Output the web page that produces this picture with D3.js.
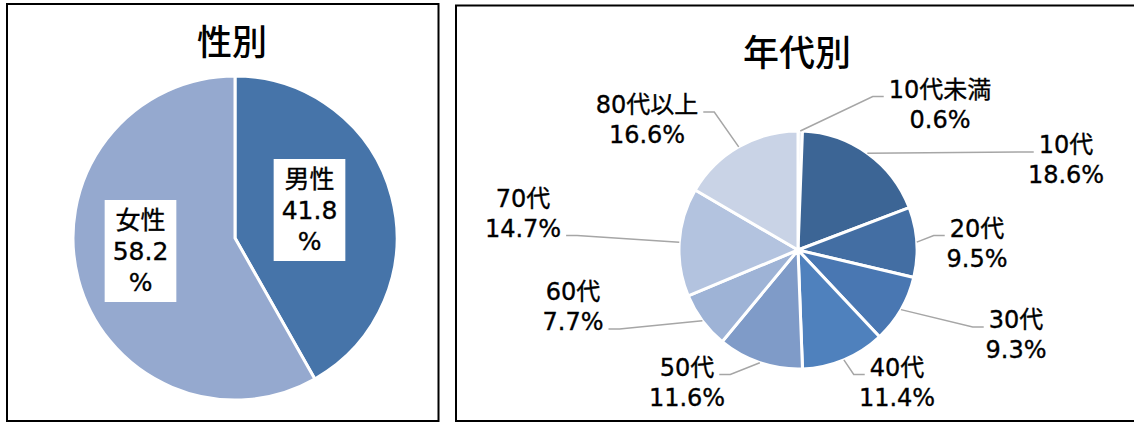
<!DOCTYPE html>
<html>
<head>
<meta charset="utf-8">
<script src="https://cdn.jsdelivr.net/npm/d3@7"></script>
<style>
body { margin: 0; background: #fff; }
svg { display: block; }
text { font-family: "DejaVu Sans", "Noto Sans CJK JP", sans-serif; fill: #000; stroke: #000; stroke-width: 0.35px; }
.title { font-family: "Noto Sans CJK JP", sans-serif; font-weight: 500; stroke: none; }
</style>
</head>
<body>
<svg id="svg"></svg>
<script>
var width = 1134, height = 423;

// 性別
var sexNames = ["男性", "女性"];
var sexValues = [41.8, 58.2];
var sexColors = ["#4674a9", "#95a9cf"];

// 年代別
var ageNames = ["10代未満", "10代", "20代", "30代", "40代", "50代", "60代", "70代", "80代以上"];
var ageValues = [0.6, 18.6, 9.5, 9.3, 11.4, 11.6, 7.7, 14.7, 16.6];
var ageColors = ["#e2e8f2", "#3c6595", "#436ea3", "#4977b2", "#4f81bd", "#7f9bc8", "#9eb3d6", "#b3c3df", "#c9d3e6"];

// label placement (offset of label centre from pie centre, which line the leader meets)
var sexLabelPos = [[74.5, -28], [-94.5, 13]];
var ageLabelPos = [[142, -145.5, 0], [268, -90, 0], [179, -6.5, 0], [218, 85, 0], [99, 132.5, 0],
	[-111, 132.5, 0], [-225, 57, 1], [-275, -36.5, 1], [-151, -130, 0]];

var fmt = d3.format(".1f");

var svg = d3.select("#svg")
	.attr("width", width)
	.attr("height", height);

// panel frames
svg.append("rect").attr("x", 7).attr("y", 4).attr("width", 431.5).attr("height", 417)
	.attr("fill", "none").attr("stroke", "#000").attr("stroke-width", 2);
svg.append("rect").attr("x", 456).attr("y", 5.5).attr("width", 700).attr("height", 415.5)
	.attr("fill", "none").attr("stroke", "#000").attr("stroke-width", 2);

svg.append("text").attr("class", "title")
	.attr("x", 232).attr("y", 39)
	.attr("text-anchor", "middle").attr("dominant-baseline", "central")
	.attr("font-size", "35px")
	.text("性別");

svg.append("text").attr("class", "title")
	.attr("x", 797).attr("y", 50)
	.attr("text-anchor", "middle").attr("dominant-baseline", "central")
	.attr("font-size", "36px")
	.text("年代別");

var pie = d3.pie()
	.sort(null)
	.value(function(d) { return d.value; });

// ---- 性別 pie ----
var sexData = sexNames.map(function(n, i) { return {name: n, value: sexValues[i], color: sexColors[i], pos: sexLabelPos[i]}; });
var r1 = 162;
var g1 = svg.append("g").attr("transform", "translate(235,238)");
var arc1 = d3.arc().outerRadius(r1).innerRadius(0);

g1.selectAll(".arc")
	.data(pie(sexData))
	.enter().append("path")
	.attr("class", "arc")
	.attr("d", arc1)
	.attr("fill", function(d) { return d.data.color; })
	.attr("stroke", "#fff")
	.attr("stroke-width", 3);

var lab1 = g1.selectAll(".lab")
	.data(sexData)
	.enter().append("g")
	.attr("class", "lab")
	.attr("transform", function(d) { return "translate(" + d.pos[0] + "," + d.pos[1] + ")"; });

lab1.each(function(d) {
	var g = d3.select(this);
	var lines = [d.name, fmt(d.value), "%"];
	var lh = 31;
	var box = g.append("rect").attr("fill", "#fff");
	var maxW = 0;
	lines.forEach(function(s, i) {
		var t = g.append("text")
			.attr("x", 0).attr("y", (i - 1) * lh)
			.attr("text-anchor", "middle").attr("dominant-baseline", "central")
			.attr("font-size", "25px")
			.text(s);
		maxW = Math.max(maxW, t.node().getComputedTextLength());
	});
	var w = maxW + 16, h = lines.length * lh + 9;
	box.attr("x", -w / 2).attr("y", -h / 2).attr("width", w).attr("height", h);
});

// ---- 年代別 pie ----
var ageData = ageNames.map(function(n, i) { return {name: n, value: ageValues[i], color: ageColors[i], pos: ageLabelPos[i]}; });
var r2 = 119;
var g2 = svg.append("g").attr("transform", "translate(798,250)");
var arc2 = d3.arc().outerRadius(r2).innerRadius(0);
var arcs2 = pie(ageData);

g2.selectAll(".arc")
	.data(arcs2)
	.enter().append("path")
	.attr("class", "arc")
	.attr("d", arc2)
	.attr("fill", function(d) { return d.data.color; })
	.attr("stroke", "#fff")
	.attr("stroke-width", 3);

var lineGroup = g2.append("g");
var lh2 = 30;

var lab2 = g2.selectAll(".lab")
	.data(arcs2)
	.enter().append("g")
	.attr("class", "lab");

lab2.each(function(d) {
	var g = d3.select(this);
	var cx = d.data.pos[0], cy = d.data.pos[1], at = d.data.pos[2];
	var lines = [d.data.name, fmt(d.data.value) + "%"];
	var widths = [];
	lines.forEach(function(s, i) {
		var t = g.append("text")
			.attr("x", cx).attr("y", cy + (i - 0.5) * lh2)
			.attr("text-anchor", "middle").attr("dominant-baseline", "central")
			.attr("font-size", "24px")
			.text(s);
		widths.push(t.node().getComputedTextLength());
	});

	// leader from slice edge to the label
	var a = (d.startAngle + d.endAngle) / 2;
	var sx = r2 * Math.sin(a), sy = -r2 * Math.cos(a);
	var right = cx > 0;
	var ey = cy + (at - 0.5) * lh2 + 7;
	var ex = right ? cx - widths[at] / 2 - 5 : cx + widths[at] / 2 + 5;
	var bx = right ? ex - 11 : ex + 11;
	lineGroup.append("path")
		.attr("d", d3.line()([[sx, sy], [bx, ey], [ex, ey]]))
		.attr("fill", "none")
		.attr("stroke", "#a6a6a6")
		.attr("stroke-width", 1.5);
});
</script>
</body>
</html>
